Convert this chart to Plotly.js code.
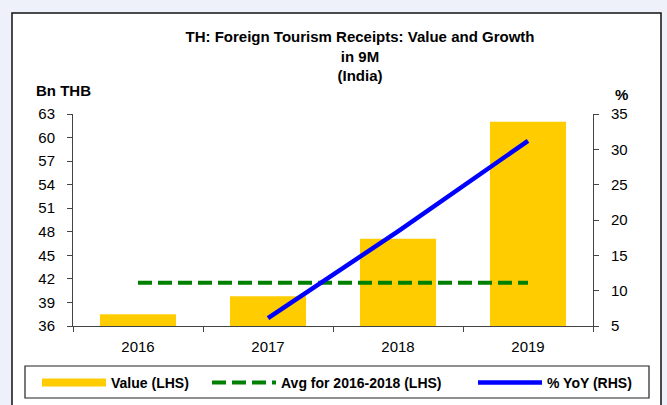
<!DOCTYPE html>
<html>
<head>
<meta charset="utf-8">
<script src="https://cdn.plot.ly/plotly-3.0.1.min.js"></script>
<style>
  html, body { margin: 0; padding: 0; background: #eef0fa; }
  #chart { width: 667px; height: 405px; }
</style>
</head>
<body>
<div id="chart"></div>
<script>
// ---- data ----
const years = ['2016', '2017', '2018', '2019'];
const valueBnTHB = [37.5, 39.8, 47.1, 62.0];
const avgYears = ['2016', '2017', '2018', '2019'];
const avg2016to2018 = [41.5, 41.5, 41.5, 41.5];
const yoyYears = ['2017', '2018', '2019'];
const yoyPct = [6.1, 18.4, 31.2];
const leftTicks = [36, 39, 42, 45, 48, 51, 54, 57, 60, 63];
const rightTicks = [5, 10, 15, 20, 25, 30, 35];
const titleLines = ['TH: Foreign Tourism Receipts: Value and Growth', 'in 9M', '(India)'];

const FONT = 'Arial, "Liberation Sans", sans-serif';

const traces = [
  {
    type: 'bar', x: years, y: valueBnTHB,
    marker: { color: '#FFCC00' }, width: 0.585,
    name: 'Value (LHS)', showlegend: false, hoverinfo: 'skip'
  },
  {
    type: 'scatter', mode: 'lines', x: [null], y: [null],
    line: { color: '#FFCC00', width: 8 }, name: 'Value (LHS)', showlegend: true,
    legendwidth: 91
  },
  {
    type: 'scatter', mode: 'lines', x: avgYears, y: avg2016to2018,
    line: { color: '#008000', width: 4, dash: '14px,6px' },
    name: 'Avg for 2016-2018 (LHS)', legendwidth: 187
  },
  {
    type: 'scatter', mode: 'lines', x: yoyYears, y: yoyPct, yaxis: 'y2',
    line: { color: '#0000FF', width: 4.5 },
    name: '% YoY (RHS)', legendwidth: 80
  }
];

const W = 667, H = 405;
const L = 73, R = 593, T = 114, B = 326;
const px2x = p => (p - L) / (R - L);
const px2y = p => (B - p) / (B - T);

const layout = {
  width: W, height: H,
  margin: { l: L, r: W - R, t: T, b: H - B, pad: 0, autoexpand: false },
  paper_bgcolor: '#eef0fa',
  plot_bgcolor: 'rgba(0,0,0,0)',
  font: { family: FONT, color: '#000000', size: 14 },
  showlegend: true,
  title: {
    text: '<b>' + titleLines.join('<br>') + '</b>',
    xref: 'paper', x: px2x(360), xanchor: 'center',
    yref: 'container', y: 1 - 42 / H, yanchor: 'top',
    font: { size: 15, family: FONT, color: '#000' }
  },
  xaxis: {
    type: 'category', categoryorder: 'array', categoryarray: years,
    range: [-0.5, 3.5],
    showline: true, linecolor: '#444', linewidth: 1,
    ticks: 'outside', tickson: 'boundaries', ticklen: 5, tickcolor: '#444',
    showgrid: false, zeroline: false, automargin: false,
    tickfont: { size: 15 }, ticklabelstandoff: 7
  },
  yaxis: {
    range: [36, 63], tickvals: leftTicks, ticktext: leftTicks.map(String),
    showline: true, linecolor: '#444', linewidth: 1,
    ticks: 'outside', ticklen: 5, tickcolor: '#444',
    showgrid: false, zeroline: false, automargin: false,
    tickfont: { size: 15 }, ticklabelstandoff: 9
  },
  yaxis2: {
    overlaying: 'y', side: 'right',
    range: [5, 35], tickvals: rightTicks, ticktext: rightTicks.map(String),
    showline: true, linecolor: '#444', linewidth: 1,
    ticks: 'outside', ticklen: 5, tickcolor: '#444',
    showgrid: false, zeroline: false, automargin: false,
    tickfont: { size: 15 }, ticklabelstandoff: 9
  },
  legend: {
    orientation: 'h',
    xref: 'paper', x: px2x(37), xanchor: 'left',
    yref: 'paper', y: px2y(367), yanchor: 'top',
    bgcolor: 'rgba(0,0,0,0)', borderwidth: 0,
    font: { size: 14, family: FONT, weight: 'bold' },
    itemwidth: 64, traceorder: 'normal'
  },
  shapes: [
    {
      type: 'rect', xref: 'paper', yref: 'paper', layer: 'below',
      x0: px2x(12), x1: px2x(661), y0: px2y(410), y1: px2y(13),
      fillcolor: '#ffffff', line: { color: '#111', width: 1.5 }
    },
    {
      type: 'rect', xref: 'paper', yref: 'paper', layer: 'below',
      x0: px2x(25), x1: px2x(649), y0: px2y(398), y1: px2y(366),
      fillcolor: '#ffffff', line: { color: '#222', width: 1.2 }
    }
  ],
  annotations: [
    { text: '<b>Bn THB</b>', x: px2x(63), y: px2y(90), xref: 'paper', yref: 'paper',
      showarrow: false, xanchor: 'center', yanchor: 'middle', font: { size: 15, family: FONT } },
    { text: '<b>%</b>', x: px2x(621), y: px2y(94), xref: 'paper', yref: 'paper',
      showarrow: false, xanchor: 'center', yanchor: 'middle', font: { size: 15, family: FONT } }
  ]
};

Plotly.newPlot('chart', traces, layout, { displayModeBar: false, staticPlot: true });
</script>
</body>
</html>
